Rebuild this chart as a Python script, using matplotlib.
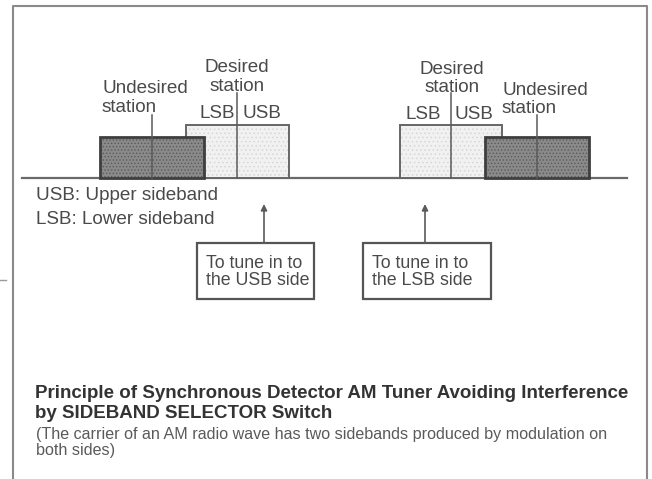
import matplotlib
matplotlib.use("Agg")
from matplotlib import pyplot as plt
from matplotlib.patches import Rectangle

# spectrum layout, in picture units (x to the right, y downwards)
baseline_y = 178
undesired_carriers = [152, 537]
undesired_halfwidths = [52, 52]
undesired_level = 41
undesired_line = 63
desired_carriers = [237, 451]
desired_halfwidths = [51.5, 51]
desired_level = 53
desired_line = 85

# tuning hint boxes: arrow position, box left, box right
tune_labels = ['To tune in to\nthe USB side', 'To tune in to\nthe LSB side']
tune_arrows = [264, 425]
tune_box_left = [197, 363]
tune_box_right = [314, 491]

TEXT = '#4a4a4a'
LINE = '#5a5a5a'

plt.rcParams['font.family'] = ['Liberation Sans', 'DejaVu Sans']
plt.rcParams['hatch.linewidth'] = 0.6

fig = plt.figure(figsize=(6.52, 4.79), dpi=100)
ax = fig.add_axes([0, 0, 1, 1])
ax.set_xlim(0, 652)
ax.set_ylim(479, 0)
ax.axis('off')

# page frame
ax.plot([13, 13, 647, 647], [479, 6, 6, 479], color='#8a8a8a', lw=1.5)
ax.plot([0, 6], [280, 280], color='#9a9a9a', lw=1)

# frequency axis
ax.plot([22, 627], [baseline_y, baseline_y], color='#6a6a6a', lw=1.6, zorder=1)

# desired station bands (light)
for c, hw in zip(desired_carriers, desired_halfwidths):
    ax.bar(c, -desired_level, width=2 * hw, bottom=baseline_y,
           color='#f1f1f1', hatch='....', edgecolor='#d6d6d6', lw=0, zorder=2)
    ax.bar(c, -desired_level, width=2 * hw, bottom=baseline_y,
           fill=False, edgecolor='#666666', lw=1.4, zorder=2)
    ax.plot([c, c], [baseline_y, baseline_y - desired_line], color=LINE, lw=1.1, zorder=4)

# undesired station bands (dark stipple, in front)
for c, hw in zip(undesired_carriers, undesired_halfwidths):
    ax.bar(c, -undesired_level, width=2 * hw, bottom=baseline_y,
           color='#8a8a8a', hatch='.....', edgecolor='#5a5a5a', lw=0, zorder=3)
    ax.bar(c, -undesired_level, width=2 * hw, bottom=baseline_y,
           fill=False, edgecolor='#3e3e3e', lw=2, zorder=3)
    ax.plot([c, c], [baseline_y, baseline_y - undesired_line], color=LINE, lw=1.1, zorder=4)

fs = 13.6
kw = dict(color=TEXT, fontsize=fs, va='center')
# left spectrum labels
ax.text(102, 88, 'Undesired', ha='left', **kw)
ax.text(102, 107, 'station', ha='left', **kw)
ax.text(237, 67, 'Desired', ha='center', **kw)
ax.text(237, 86, 'station', ha='center', **kw)
ax.text(217, 113, 'LSB', ha='center', **kw)
ax.text(262, 113, 'USB', ha='center', **kw)
# right spectrum labels
ax.text(452, 69, 'Desired', ha='center', **kw)
ax.text(452, 87, 'station', ha='center', **kw)
ax.text(423, 114, 'LSB', ha='center', **kw)
ax.text(474, 114, 'USB', ha='center', **kw)
ax.text(502, 90, 'Undesired', ha='left', **kw)
ax.text(502, 108, 'station', ha='left', **kw)

ax.text(36, 195, 'USB: Upper sideband', ha='left', **kw)
ax.text(36, 220, 'LSB: Lower sideband', ha='left', **kw)

# tuning arrows and boxes
for lab, xa, x0, x1 in zip(tune_labels, tune_arrows, tune_box_left, tune_box_right):
    ax.annotate('', xy=(xa, 204), xytext=(xa, 243),
                arrowprops=dict(arrowstyle='-|>', color=LINE, lw=1.2,
                                mutation_scale=9, shrinkA=0, shrinkB=0))
    ax.add_patch(Rectangle((x0, 243), x1 - x0, 56, fill=False,
                           edgecolor='#555555', lw=1.6))
    ax.text(x0 + 9, 272, lab, ha='left', va='center', color=TEXT,
            fontsize=12.8, linespacing=1.02)

# caption
ax.text(35, 394, 'Principle of Synchronous Detector AM Tuner Avoiding Interference',
        ha='left', va='center', color='#333333', fontsize=13.5, fontweight='bold')
ax.text(35, 413, 'by SIDEBAND SELECTOR Switch',
        ha='left', va='center', color='#333333', fontsize=13.5, fontweight='bold')
ax.text(36, 435, '(The carrier of an AM radio wave has two sidebands produced by modulation on',
        ha='left', va='center', color='#5a5a5a', fontsize=11.6)
ax.text(36, 451, 'both sides)', ha='left', va='center', color='#5a5a5a', fontsize=11.6)

fig.savefig('out.png', dpi=100)
